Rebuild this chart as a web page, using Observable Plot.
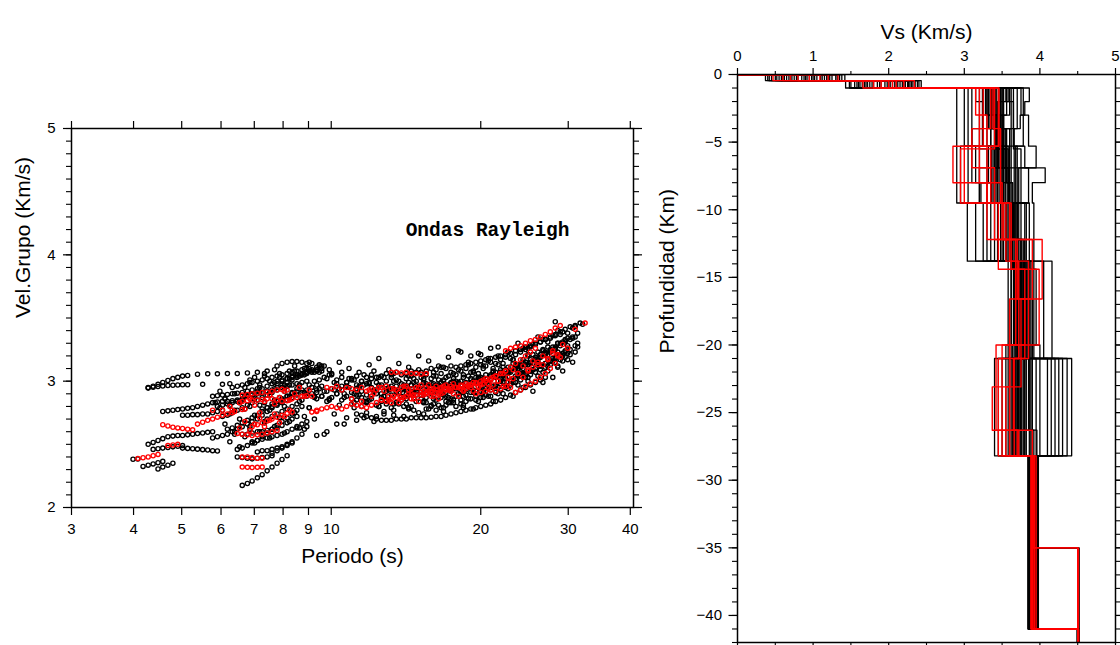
<!DOCTYPE html>
<html>
<head>
<meta charset="utf-8">
<script src="https://cdn.jsdelivr.net/npm/d3@7"></script>
<script src="https://cdn.jsdelivr.net/npm/@observablehq/plot@0.6"></script>
<style>
  html, body { margin: 0; padding: 0; background: #fff; }
  #wrap { position: relative; width: 1120px; height: 645px; overflow: hidden; }
  #left, #right { position: absolute; top: 0; }
  #left { left: 0; }
  #right { left: 650px; }
</style>
</head>
<body>
<div id="wrap"><div id="left"></div><div id="right"></div></div>
<script>
// ---------- Group-velocity dispersion picks (Rayleigh waves) ----------
// Two interleaved period samplings (s); each pick refers to one of them by index.
const periodGrid = [3.90,3.99,4.08,4.18,4.28,4.38,4.48,4.58,4.69,4.80,
  4.91,5.02,5.14,5.26,5.38,5.51,5.64,5.77,5.90,6.04,
  6.18,6.32,6.47,6.62,6.78,6.93,7.10,7.26,7.43,7.60,
  7.78,7.96,8.15,8.34,8.53,8.73,8.93,9.14,9.35,9.57,
  9.80,10.02,10.26,10.50,10.74,10.99,11.25,11.51,11.78,12.05,
  12.33,12.62,12.91,13.21,13.52,13.84,14.16,14.49,14.83,15.17,
  15.53,15.89,16.26,16.64,17.02,17.42,17.83,18.24,18.67,19.10,
  19.55,20.00,20.47,20.94,21.43,21.93,22.44,22.96,23.50,24.05,
  24.61,25.18,25.77,26.37,26.98,27.61,28.25,28.91,29.58,30.27,
  30.98,31.70,32.44,33.19];
const periodGridB = [3.95,4.04,4.13,4.23,4.33,4.43,4.53,4.63,4.74,4.86,
  4.97,5.08,5.20,5.32,5.44,5.57,5.71,5.84,5.97,6.11,
  6.25,6.39,6.54,6.70,6.86,7.01,7.18,7.34,7.52,7.69,
  7.87,8.05,8.24,8.44,8.63,8.83,9.03,9.25,9.46,9.68,
  9.91,10.14,10.38,10.62,10.86,11.12,11.38,11.64,11.92,12.19,
  12.47,12.77,13.06,13.36,13.68,14.00,14.32,14.66,15.00,15.35,
  15.71,16.07,16.45,16.83,17.22,17.62,18.04,18.45,18.89,19.32,
  19.78,20.23,20.71,21.18,21.68,22.18,22.70,23.23,23.77,24.33,
  24.90,25.47,26.07,26.68,27.29,27.93,28.58,29.24,29.92,30.62,
  31.34,32.07,32.82];

// Each curve: [first period index, index step, group velocities (km/s)...]
const blackCurves = [
  [4,1, 2.95,2.96,2.975,2.99,3.005,3.02,3.03,3.04,3.045],
  [14,2, 3.055,3.058,3.058,3.06,3.06,3.065,3.07,3.08],
  [30,1, 3.12,3.14,3.15,3.155,3.155,3.15,3.14],
  [4,1, 2.945,2.952,2.958,2.962,2.966,2.968,2.97,2.972,2.972],
  [15,4, 2.975,2.975],
  [7,1, 2.76,2.765,2.77,2.775,2.78,2.785,2.79,2.80,2.81,2.82,2.83,2.835,2.84,2.84,2.845,2.85,2.85],
  [11,1, 2.73,2.73,2.735,2.735,2.74,2.74,2.75,2.76,2.77],
  [4,1, 2.50,2.515,2.53,2.545,2.56,2.565,2.57,2.57,2.575,2.58,2.585,2.59,2.595,2.60],
  [5,1, 2.46,2.465,2.47,2.475,2.48,2.485,2.49],
  [1,1, 2.382,2.384],
  [3,1, 2.325,2.335,2.345,2.355,2.365],
  [6,1, 2.305,2.32,2.335,2.35],
  [11,1, 2.47,2.468,2.465,2.462,2.458,2.455,2.45,2.447],
  [23,1, 2.175,2.19,2.21,2.235,2.26,2.29,2.32,2.35,2.38,2.41],
  [22,1, 2.40,2.395,2.39,2.385,2.39,2.395,2.40,2.41],
  [29,1, 2.43,2.45,2.47,2.49,2.51],
  [18,1, 2.80,2.81,2.82,2.83,2.84,2.86,2.88,2.90,2.92,2.94,2.96,2.98,3.00,3.01,3.02,3.03,3.04,3.05,3.06,3.07,3.08],
  [19,1, 2.72,2.73,2.75,2.77,2.79,2.81,2.83,2.85,2.87,2.89,2.91,2.93,2.95,2.96,2.97,2.98,2.99,3.00],
  [20,1, 2.62,2.63,2.65,2.67,2.69,2.71,2.73,2.76,2.79,2.82,2.84,2.86,2.88,2.90,2.92],
  [17,1, 2.55,2.56,2.57,2.58,2.60,2.62,2.64,2.66,2.68,2.70,2.73,2.76,2.79,2.82,2.85,2.88,2.91,2.94],
  [22,1, 2.46,2.47,2.49,2.51,2.53,2.56,2.59,2.62,2.65,2.68,2.71,2.74,2.77,2.80],
  [21,1, 2.95,2.96,2.97,2.98,2.99,3.00,3.01,3.02,3.03,3.04,3.05,3.06,3.07,3.08,3.09,3.10],
  [24,1, 2.88,2.89,2.90,2.91,2.92,2.93,2.95,2.97,2.99,3.01,3.03,3.05,3.07,3.09,3.11,3.12],
  [25,1, 2.52,2.53,2.54,2.55,2.56,2.57,2.58,2.60,2.62,2.64,2.66,2.68],
  [23,1, 2.58,2.58,2.59,2.60,2.60,2.61,2.62,2.63,2.65,2.67,2.70,2.72],
  [26,1, 2.44,2.45,2.45,2.46,2.47,2.48,2.50,2.52,2.55,2.58],
  [28,1, 2.70,2.72,2.74,2.76,2.78,2.80,2.82,2.85,2.88,2.90,2.93,2.96],
  [17,1, 2.88,2.885,2.89,2.895,2.90,2.905,2.91,2.92,2.93,2.94],
  [30,1, 2.98,3.00,3.02,3.04,3.05,3.06,3.07,3.08,3.09,3.10],
  [27,1, 2.78,2.79,2.80,2.81,2.83,2.85,2.87,2.89,2.91,2.93,2.95,2.97],
  [34,2, 2.63,2.64,2.57,2.60,2.66,2.71],
  [46,2, 2.69,2.75,2.72],
  [37,2, 3.14,3.08,3.06,3.07],
  [67,2, 3.23,3.20,3.21,3.26],
  [40,1, 3.02,3.05,3.01,3.03,2.99,3.02,3.04,3.00,3.03,3.05,
         3.03,3.04,3.06,3.05,3.07,3.05,3.06,3.08,3.07,3.07,
         3.08,3.10,3.09,3.11,3.10,3.12,3.11,3.12,3.13,3.14,
         3.15,3.16,3.17,3.18,3.19,3.20,3.21,3.22,3.24,3.25,
         3.27,3.28,3.30,3.31,3.33,3.34,3.36,3.37],
  [46,1, 2.74,2.73,2.72,2.71,2.70,2.69,2.69,2.69,2.70,2.70,
         2.70,2.71,2.71,2.71,2.71,2.715,2.72,2.72,2.73,2.74,
         2.75,2.76,2.77,2.78,2.79,2.80,2.81,2.82,2.84,2.85,
         2.87,2.89,2.91,2.93,2.95,2.97,2.99,3.01,3.03],
  [35,1, 2.93,2.90,2.95,2.91,2.88,2.92,2.94,2.90,2.93,2.96,
         2.91,2.94,2.92,2.89,2.95,2.93,2.90,2.94,2.96,2.92,
         2.95,2.93,2.97,2.94,2.91,2.96,2.98,2.95,2.93,2.97,
         2.99,2.96,3.00,2.98,3.02,3.00,3.03,3.05,3.04,3.07,
         3.09,3.08,3.11,3.13,3.12,3.15,3.17,3.19,3.21,3.23,
         3.25,3.27,3.30,3.32],
  [38,1, 2.86,2.88,2.84,2.87,2.90,2.85,2.88,2.86,2.89,2.87,
         2.84,2.88,2.90,2.87,2.85,2.89,2.91,2.88,2.86,2.90,
         2.92,2.89,2.87,2.91,2.93,2.90,2.88,2.92,2.94,2.91,
         2.93,2.95,2.92,2.96,2.98,2.95,2.97,3.00,3.02,3.01,
         3.04,3.06,3.05,3.08,3.10,3.12,3.14,3.16,3.18,3.21,
         3.23,3.25,3.28],
  [42,1, 2.98,2.96,2.99,3.01,2.97,3.00,2.98,3.02,2.99,2.97,
         3.00,3.03,3.01,2.98,3.02,3.04,3.00,3.03,3.05,3.02,
         3.04,3.06,3.03,3.07,3.05,3.08,3.10,3.07,3.11,3.13,
         3.12,3.15,3.14,3.17,3.19,3.18,3.21,3.23,3.25,3.27,
         3.29,3.31,3.33,3.35,3.37,3.39,3.41,3.43,3.44,3.46],
  [45,1, 2.82,2.85,2.80,2.83,2.86,2.81,2.84,2.82,2.79,2.83,
         2.85,2.82,2.80,2.84,2.86,2.83,2.81,2.85,2.87,2.84,
         2.86,2.88,2.85,2.89,2.91,2.88,2.92,2.94,2.93,2.96,
         2.98,2.97,3.00,3.02,3.04,3.06,3.08,3.10,3.12,3.14,
         3.16,3.19,3.21,3.24],
  [50,1, 2.93,2.95,2.92,2.94,2.96,2.93,2.95,2.97,2.94,2.96,
         2.98,2.95,2.97,2.99,2.96,2.98,3.00,2.97,2.99,3.01,
         3.03,3.00,3.02,3.05,3.04,3.07,3.09,3.08,3.11,3.13,
         3.15,3.14,3.17,3.19,3.22,3.24,3.26,3.28,3.31,3.33,3.35],
  [56,1, 2.90,2.92,2.89,2.91,2.93,2.90,2.92,2.94,2.91,2.93,
         2.95,2.92,2.94,2.96,2.98,2.96,2.99,3.01,3.03,3.02,
         3.05,3.07,3.09,3.11,3.13,3.15,3.17,3.19,3.21,3.23,3.25],
  [60,1, 2.78,2.80,2.77,2.79,2.81,2.83,2.80,2.82,2.84,2.86,
         2.85,2.87,2.89,2.88,2.91,2.93,2.95,2.97,2.99,3.01,
         3.03,3.05,3.07,3.09,3.11,3.13,3.15,3.17,3.19,3.21,3.23],
  [86,2, 3.47,3.33,3.43]
];
// Picks on the second period sampling
const blackCurvesB = [
  [36,1, 2.97,2.88,3.01,2.92,2.85,2.99,2.94,2.87,3.02,2.90,
         2.96,2.84,2.99,2.93,3.03,2.88,2.95,3.00,2.91,2.97,
         2.89,3.02,2.95,2.99,2.92,3.04,2.96,3.01,2.93,3.06,
         2.98,3.03,2.95,3.08,3.02,3.10,3.00,3.07,3.13,3.05,
         3.11,3.17,3.09,3.15,3.21,3.14,3.19,3.25,3.18,3.24,
         3.30,3.22,3.28,3.34],
  [40,1, 2.86,2.93,2.81,2.90,2.95,2.83,2.89,2.97,2.85,2.92,
         2.80,2.88,2.94,2.82,2.91,2.87,2.78,2.90,2.95,2.84,
         2.92,2.86,2.97,2.89,2.83,2.94,2.99,2.88,2.96,2.91,
         3.01,2.93,2.98,3.04,2.95,3.02,3.07,2.99,3.05,3.10,
         3.03,3.09,3.14,3.07,3.12,3.18,3.11,3.16,3.22,3.15,3.27],
  [45,1, 3.01,2.95,3.05,2.98,3.08,2.97,3.03,2.93,3.06,3.00,
         2.96,3.04,2.99,3.09,3.02,2.97,3.07,3.01,3.11,3.04,
         3.00,3.09,3.05,3.13,3.07,3.03,3.12,3.16,3.10,3.20,
         3.14,3.23,3.17,3.13,3.26,3.20,3.29,3.23,3.33,3.27,
         3.36,3.30,3.39,3.34,3.42,3.38,3.45],
  [50,1, 2.80,2.74,2.85,2.77,2.82,2.72,2.79,2.86,2.75,2.83,
         2.78,2.88,2.81,2.76,2.87,2.83,2.90,2.79,2.86,2.93,
         2.84,2.91,2.88,2.96,2.90,2.99,2.94,3.02,2.97,3.06,
         3.00,3.09,3.04,3.13,3.08,3.16,3.12,3.20,3.17],
  [55,1, 2.94,2.99,2.91,2.96,3.01,2.93,2.98,2.95,3.00,2.97,
         3.02,2.99,2.94,3.04,3.00,3.06,3.02,2.98,3.08,3.04,
         3.11,3.07,3.14,3.10,3.17,3.13,3.21,3.16,3.24,3.20,
         3.27,3.23,3.31,3.26,3.35,3.30],
  [36,2, 3.08,3.12,3.05,3.15,3.10,3.07,3.13,3.18,3.09,3.14,
         3.11,3.20,3.16,3.12,3.19,3.24,3.15,3.22,3.18,3.27,
         3.23,3.30,3.26,3.35,3.31,3.40,3.38],
  [35,2, 2.62,2.70,2.58,2.74,2.66,2.79,2.71,2.68,2.76,2.73,
         2.80,2.77,2.74,2.82,2.79,2.85,2.81,2.78,2.87,2.84,
         2.90,2.88,2.95,2.92,2.99,3.03,3.08],
  [18,1, 2.92,2.86,2.98,2.90,2.83,2.95,3.01,2.88,2.97,3.04,2.91,2.99,3.06,2.94,3.02,3.08,2.97,3.05,3.10,3.00,3.07,3.12],
  [19,1, 2.66,2.74,2.60,2.70,2.78,2.64,2.73,2.81,2.68,2.77,2.85,2.71,2.80,2.88,2.75,2.84,2.91,2.79,2.87,2.94],
  [20,1, 2.52,2.58,2.48,2.56,2.62,2.51,2.60,2.67,2.55,2.64,2.71,2.59,2.68,2.75,2.63,2.72,2.79],
  [24,1, 2.99,3.03,2.95,3.06,3.00,3.09,3.03,2.97,3.08,3.12,3.04,3.10,3.15,3.07,3.13,3.03,3.09],
  [17,1, 2.83,2.79,2.86,2.81,2.77,2.84,2.88,2.80,2.86,2.91,2.83,2.89,2.94,2.87,2.92,2.97,2.90]
];

const redCurves = [
  [7,1, 2.655,2.645,2.635,2.63,2.625,2.62,2.615],
  [14,1, 2.66,2.675,2.69,2.70,2.715,2.73,2.74,2.75],
  [8,1, 2.49,2.495,2.50],
  [2,1, 2.388,2.394,2.40,2.41,2.42],
  [23,1, 2.32,2.318,2.316,2.318,2.32],
  [23,1, 2.40,2.40,2.395,2.39,2.39],
  [23,1, 2.89,2.895,2.90,2.905,2.91,2.915,2.92,2.93,2.935,2.93],
  [23,1, 2.84,2.845,2.85,2.85,2.855,2.86,2.86,2.85,2.84,2.845,2.86,2.87,2.88,2.885,2.88],
  [17,2, 2.77,2.77,2.77,2.775],
  [25,1, 2.64,2.655,2.67,2.685,2.70,2.715,2.73,2.745,2.755],
  [22,1, 2.585,2.58,2.575,2.57,2.575,2.58,2.59,2.60,2.61],
  [37,1, 2.755,2.76],
  [40,1, 2.95,2.94,2.96,2.93,2.95,2.94,2.93,2.95,2.92,2.94,
         2.93,2.95,2.96,2.94,2.93,2.95,2.96,2.94,2.95,2.97,
         2.95,2.94,2.96,2.95,2.97,2.96,2.95,2.97,2.98,2.97,
         2.99,3.00,3.02,3.01,3.04,3.06,3.08],
  [38,1, 2.77,2.78,2.79,2.80,2.79,2.78,2.80,2.82,2.81,2.80,
         2.79,2.81,2.83,2.85,2.84,2.86,2.87,2.85,2.88,2.90,
         2.89,2.91,2.90,2.92,2.91,2.93,2.94,2.92,2.95,2.96,
         2.94,2.97,2.98,2.97,3.00,3.02,3.04,3.06,3.08,3.11,
         3.14,3.17,3.20,3.23,3.26],
  [53,1, 3.07,3.07,3.065,3.07,3.06,3.06,3.055,3.06],
  [76,1, 3.24,3.26,3.27,3.28,3.30,3.32,3.33,3.35,3.37,3.39,3.42,3.44],
  [90,2, 3.41,3.46],
  [70,1, 2.90,2.91,2.92,2.93,2.92,2.94,2.96,2.95,2.91,2.93,
         2.96,2.98,3.00,3.03,3.06,3.10,3.14,3.19],
  [60,1, 2.91,2.92,2.93,2.94,2.93,2.94,2.95,2.94,2.96,2.95],
  [45,2, 2.86,2.84,2.88,2.85,2.83,2.87,2.86,2.89,2.88,2.90]
];
const redCurvesB = [
  [48,1, 2.93,2.90,2.95,2.92,2.88,2.94,2.91,2.96,2.93,2.89,
         2.95,2.92,2.97,2.94,2.90,2.96,2.93,2.98,2.95,2.92,
         2.97,2.99,2.96,3.01,2.98,3.03,3.00,3.06,3.03,3.09,
         3.06,3.12,3.09,3.16,3.13,3.20,3.17,3.24,3.21,3.29,3.26],
  [52,1, 2.85,2.88,2.83,2.87,2.90,2.86,2.84,2.89,2.92,2.88,
         2.86,2.91,2.94,2.90,2.88,2.93,2.96,2.92,2.95,2.98,
         2.94,2.97,3.00,2.96,2.99,3.02,3.06,3.03,3.08,3.11,
         3.15,3.13,3.18,3.22,3.20],
  [20,1, 2.80,2.76,2.83,2.78,2.86,2.81,2.75,2.84,2.89,2.82,2.87,2.92,2.85,2.90,2.95,2.88,2.93],
  [22,1, 2.63,2.68,2.61,2.66,2.71,2.64,2.69,2.74,2.67,2.72,2.77]
];

// Axis ticks and annotation text of the dispersion panel
const periodTicks = [3, 4, 5, 6, 7, 8, 9, 10, 20, 30, 40];
const velTicks = [2, 3, 4, 5];
const waveLabel = "Ondas Rayleigh";
const periodTitle = "Periodo (s)";
const velTitle = "Vel.Grupo (Km/s)";

// ---------- Shear-velocity models ----------
// Each model: [Vs1, bottom1, Vs2, bottom2, ..., Vs of the half-space]; depths in km.
const blackModels = [
  [0.37,0.45, 1.43,1.0, 2.90,9.5, 3.04,13.8, 3.62,20.0, 3.90,28.2, 3.85,41, 4.50],
  [1.42,0.45, 2.43,1.0, 3.86,2.0, 3.80,3.0, 3.74,4.0, 3.66,5.3, 3.80,6.9, 4.07,8.0, 3.90,9.5, 3.92,13.8, 4.16,21.0, 4.42,28.2, 3.98,41, 4.52],
  [0.55,0.45, 1.60,1.0, 3.10,5.3, 2.95,9.5, 3.25,13.8, 3.75,21.0, 3.60,28.2, 3.90,41, 4.50],
  [0.70,0.45, 1.80,1.0, 3.40,4.0, 3.55,8.0, 3.60,12.2, 3.80,20.0, 3.70,28.2, 3.92,35, 4.50],
  [0.85,0.45, 2.00,1.0, 3.30,3.0, 3.45,6.9, 3.20,9.5, 3.55,13.8, 3.85,21.0, 4.30,28.2, 3.95,41, 4.50],
  [1.00,0.45, 2.20,1.0, 3.55,2.0, 3.65,5.3, 3.70,9.5, 3.80,14.4, 3.95,20.0, 3.90,26.3, 3.88,41, 4.51],
  [1.15,0.45, 1.95,1.0, 3.20,5.5, 3.30,9.5, 3.50,13.8, 3.70,21.0, 3.45,28.2, 3.86,41, 4.50],
  [1.30,0.45, 2.30,1.0, 3.70,4.0, 3.60,6.9, 3.85,9.5, 3.75,13.8, 3.90,21.0, 4.20,28.2, 3.93,35, 4.52],
  [0.45,0.45, 1.50,1.0, 3.00,5.3, 3.15,8.0, 3.35,13.8, 3.65,20.0, 3.55,28.2, 3.84,41, 4.49],
  [0.65,0.45, 1.70,1.0, 3.45,3.0, 3.35,5.5, 3.50,9.5, 3.60,13.8, 3.80,21.0, 3.75,28.2, 3.89,41, 4.50],
  [0.90,0.45, 2.10,1.0, 3.35,5.3, 3.40,9.5, 3.45,13.8, 3.72,20.0, 4.00,28.2, 3.91,41, 4.50],
  [1.10,0.45, 2.35,1.0, 3.60,3.0, 3.50,6.9, 3.40,9.5, 3.65,12.2, 3.78,21.0, 3.65,28.2, 3.87,41, 4.50],
  [1.25,0.45, 1.85,1.0, 3.25,4.0, 3.10,8.0, 3.30,13.8, 3.68,20.0, 3.85,26.3, 3.96,41, 4.51],
  [0.50,0.45, 2.05,1.0, 3.50,5.3, 3.58,9.5, 3.48,13.8, 3.82,21.0, 4.10,28.2, 3.90,35, 4.50],
  [0.80,0.45, 2.25,1.0, 3.15,2.0, 3.25,5.3, 3.05,9.5, 3.40,13.8, 3.70,21.0, 3.50,28.2, 3.88,41, 4.50],
  [0.95,0.45, 1.65,1.0, 3.65,5.5, 3.75,9.5, 3.62,13.8, 3.88,20.0, 3.80,28.2, 3.94,41, 4.50],
  [1.35,0.45, 2.15,1.0, 3.38,4.0, 3.48,6.9, 3.58,9.5, 3.52,13.8, 3.76,21.0, 3.95,28.2, 3.86,41, 4.50],
  [0.60,0.45, 1.90,1.0, 3.28,3.0, 3.42,8.0, 3.22,9.5, 3.44,13.8, 3.66,20.0, 3.72,28.2, 3.92,41, 4.50],
  [1.05,0.45, 2.40,1.0, 3.78,5.3, 3.68,9.5, 3.82,13.8, 3.92,21.0, 4.36,28.2, 3.97,41, 4.51],
  [0.75,0.45, 1.55,1.0, 3.05,5.3, 3.20,9.5, 3.15,13.8, 3.58,21.0, 3.40,28.2, 3.85,41, 4.50],
  [1.20,0.45, 2.28,1.0, 3.48,4.0, 3.62,8.0, 3.55,12.2, 3.74,20.0, 3.88,26.3, 3.90,41, 4.50],
  [0.40,0.45, 1.75,1.0, 3.58,2.0, 3.44,5.3, 3.66,9.5, 3.56,13.8, 3.86,21.0, 4.25,28.2, 3.89,41, 4.50],
  [0.88,0.45, 2.12,1.0, 3.42,5.5, 3.52,9.5, 3.70,14.4, 3.78,20.0, 3.62,28.2, 3.87,41, 4.50],
  [1.38,0.45, 2.38,1.0, 3.75,3.0, 3.85,5.3, 3.95,6.9, 3.72,9.5, 3.86,13.8, 4.05,21.0, 4.15,28.2, 3.94,41, 4.50],
  [0.42,0.45, 1.48,1.0, 3.30,5.3, 3.38,9.5, 3.55,13.8, 3.70,21.0, 3.68,28.2, 3.86,41, 4.50],
  [0.58,0.45, 1.62,1.0, 3.36,4.0, 3.44,8.0, 3.62,13.8, 3.74,20.0, 3.72,28.2, 3.88,41, 4.50],
  [0.68,0.45, 1.78,1.0, 3.42,5.3, 3.50,9.5, 3.66,12.2, 3.76,21.0, 3.78,28.2, 3.90,41, 4.50],
  [0.78,0.45, 1.88,1.0, 3.48,3.0, 3.40,6.9, 3.60,9.5, 3.70,13.8, 3.80,21.0, 3.82,28.2, 3.91,41, 4.50],
  [0.92,0.45, 1.98,1.0, 3.52,5.5, 3.46,9.5, 3.68,13.8, 3.72,20.0, 3.76,28.2, 3.89,41, 4.50],
  [1.02,0.45, 2.08,1.0, 3.34,4.0, 3.56,8.0, 3.64,13.8, 3.78,21.0, 3.70,28.2, 3.87,35, 4.50],
  [1.12,0.45, 2.18,1.0, 3.40,5.3, 3.48,9.5, 3.58,13.8, 3.68,21.0, 3.74,26.3, 3.92,41, 4.50],
  [1.22,0.45, 2.26,1.0, 3.56,3.0, 3.46,5.5, 3.54,9.5, 3.64,14.4, 3.82,20.0, 3.66,28.2, 3.86,41, 4.51],
  [1.32,0.45, 2.32,1.0, 3.24,5.3, 3.36,9.5, 3.60,13.8, 3.74,21.0, 3.80,28.2, 3.93,41, 4.50],
  [0.52,0.45, 1.58,1.0, 3.62,4.0, 3.54,6.9, 3.48,9.5, 3.66,13.8, 3.84,21.0, 3.58,28.2, 3.88,41, 4.50],
  [0.72,0.45, 1.72,1.0, 3.46,5.3, 3.32,8.0, 3.52,12.2, 3.62,20.0, 3.64,28.2, 3.90,41, 4.50],
  [0.98,0.45, 2.02,1.0, 3.38,3.0, 3.52,5.3, 3.44,9.5, 3.70,13.8, 3.76,21.0, 3.86,28.2, 3.91,41, 4.50],
  [1.18,0.45, 2.22,1.0, 3.50,5.5, 3.58,9.5, 3.72,13.8, 3.66,20.0, 3.70,28.2, 3.89,41, 4.50],
  [0.62,0.45, 1.68,1.0, 3.32,4.0, 3.42,9.5, 3.56,13.8, 3.80,21.0, 3.74,28.2, 3.87,41, 4.50]
];
const redModels = [
  [0.47,0.45, 2.34,1.0, 3.46,5.3, 2.85,8.0, 3.30,12.2, 4.03,16.6, 3.60,23.1, 3.37,26.3, 3.70,28.2, 3.90,35, 4.51],
  [1.09,0.45, 1.66,1.0, 3.20,5.5, 2.95,9.5, 3.45,14.4, 3.99,20.0, 3.50,28.2, 3.88,41, 4.51],
  [0.80,0.45, 2.00,1.0, 3.35,4.0, 3.10,6.9, 3.40,12.2, 3.70,16.6, 3.80,21.0, 3.45,28.2, 3.92,41, 4.50],
  [1.33,0.45, 2.20,1.0, 3.25,5.3, 3.00,9.5, 3.55,13.8, 3.85,21.0, 3.65,26.3, 3.90,41, 4.51],
  [0.60,0.45, 1.90,1.0, 3.40,5.5, 3.20,8.0, 3.50,12.2, 3.90,16.6, 3.75,23.1, 3.55,28.2, 3.95,41, 4.50],
  [0.95,0.45, 2.10,1.0, 3.15,3.0, 3.30,9.5, 3.62,14.4, 3.80,20.0, 3.42,26.3, 3.72,28.2, 3.91,35, 4.50],
  [0.70,0.45, 1.80,1.0, 3.45,5.3, 3.35,9.5, 3.60,13.8, 3.72,21.0, 3.66,28.2, 3.89,41, 4.50],
  [1.20,0.45, 2.05,1.0, 3.38,4.0, 3.48,9.5, 3.52,12.2, 3.68,20.0, 3.60,28.2, 3.93,41, 4.51]
];
const modelBottom = 45; // half-space drawn past the bottom of the frame

// Axis ticks and titles of the velocity-model panel
const vsTicks = [0, 1, 2, 3, 4, 5];
const vsHalfTicks = [0.5, 1.5, 2.5, 3.5, 4.5];
const depthTicks = [0, -5, -10, -15, -20, -25, -30, -35, -40];
const vsTitle = "Vs (Km/s)";
const depthTitle = "Profundidad (Km)";

// ---------- Helpers ----------
function picks(curves, grid) {
  const out = [];
  for (const c of curves) {
    const [start, step, ...vels] = c;
    vels.forEach((v, k) => {
      const p = grid[start + k * step];
      if (p !== undefined) out.push({period: p, vel: v});
    });
  }
  return out;
}

function staircase(models) {
  const out = [];
  models.forEach((m, id) => {
    out.push({vs: 0, depth: 0, id});
    let top = 0;
    for (let k = 0; k < m.length; k += 2) {
      const vs = m[k];
      const bottom = k + 1 < m.length ? m[k + 1] : modelBottom;
      out.push({vs, depth: -top, id}, {vs, depth: -bottom, id});
      top = bottom;
    }
  });
  return out;
}

const sans = "Liberation Sans, Arial, Helvetica, sans-serif";
const blank = () => "";
const blackPicks = picks(blackCurves, periodGrid).concat(picks(blackCurvesB, periodGridB));
const redPicks = picks(redCurves, periodGrid).concat(picks(redCurvesB, periodGridB));

// ---------- Left panel: dispersion curves ----------
const dispersion = Plot.plot({
  width: 650,
  height: 645,
  marginLeft: 71,
  marginRight: 17,
  marginTop: 128,
  marginBottom: 138,
  style: {fontFamily: sans, fontSize: "15px", color: "black", background: "transparent"},
  x: {type: "log", domain: [3, 40.6], label: null},
  y: {domain: [2, 5], label: null},
  marks: [
    Plot.axisX({anchor: "bottom", ticks: periodTicks, tickFormat: d => `${d}`, tickSize: 8, tickPadding: 8, strokeWidth: 1.2, fontSize: 15, label: null}),
    Plot.axisX({anchor: "top", ticks: periodTicks, tickFormat: blank, tickSize: 8, strokeWidth: 1.2, label: null}),
    Plot.axisY({anchor: "left", ticks: velTicks, tickFormat: d => `${d}`, tickSize: 8, tickPadding: 8, strokeWidth: 1.2, fontSize: 15, label: null}),
    Plot.axisY({anchor: "left", ticks: 30, tickFormat: blank, tickSize: 5, strokeWidth: 1.1, label: null}),
    Plot.axisY({anchor: "right", ticks: velTicks, tickFormat: blank, tickSize: 8, strokeWidth: 1.2, label: null}),
    Plot.axisY({anchor: "right", ticks: 30, tickFormat: blank, tickSize: 5, strokeWidth: 1.1, label: null}),
    Plot.dot(blackPicks, {x: "period", y: "vel", r: 2.1, stroke: "black", strokeWidth: 1.35, fill: "none"}),
    Plot.dot(redPicks, {x: "period", y: "vel", r: 2.1, stroke: "#ff0000", strokeWidth: 1.35, fill: "none"}),
    Plot.frame({stroke: "black", strokeWidth: 1.5}),
    Plot.text([waveLabel], {frameAnchor: "top-right", dx: -64, dy: 107.5, textAnchor: "end", lineAnchor: "bottom",
      fontFamily: "Liberation Mono, Courier New, monospace", fontWeight: "bold", fontSize: 19.5, fill: "black"}),
    Plot.text([periodTitle], {frameAnchor: "bottom", dy: 55, fontSize: 21, fill: "black"}),
    Plot.text([velTitle], {frameAnchor: "left", dx: -48, rotate: -90, fontSize: 21, fill: "black"})
  ]
});
document.getElementById("left").append(dispersion);

// ---------- Right panel: Vs models ----------
const models = Plot.plot({
  width: 470,
  height: 645,
  marginLeft: 87,
  marginRight: 5,
  marginTop: 74,
  marginBottom: 3,
  style: {fontFamily: sans, fontSize: "15px", color: "black", background: "transparent"},
  x: {domain: [0, 5], label: null},
  y: {domain: [-42, 0], label: null},
  marks: [
    Plot.axisX({anchor: "top", ticks: vsTicks, tickFormat: d => `${d}`, tickSize: 7, tickPadding: 7, strokeWidth: 1.2, fontSize: 15, label: null}),
    Plot.axisX({anchor: "top", ticks: vsHalfTicks, tickFormat: blank, tickSize: 4, strokeWidth: 1.1, label: null}),
    Plot.axisX({anchor: "bottom", ticks: vsTicks, tickFormat: blank, tickSize: 7, strokeWidth: 1.2, label: null}),
    Plot.axisX({anchor: "bottom", ticks: vsHalfTicks, tickFormat: blank, tickSize: 4, strokeWidth: 1.1, label: null}),
    Plot.axisY({anchor: "left", ticks: depthTicks, tickSize: 8.5, tickPadding: 7, strokeWidth: 1.2, fontSize: 15, label: null}),
    Plot.axisY({anchor: "left", ticks: 42, tickFormat: blank, tickSize: 5, strokeWidth: 1.1, label: null}),
    Plot.axisY({anchor: "right", ticks: depthTicks, tickFormat: blank, tickSize: 8.5, strokeWidth: 1.2, label: null}),
    Plot.axisY({anchor: "right", ticks: 42, tickFormat: blank, tickSize: 5, strokeWidth: 1.1, label: null}),
    Plot.line(staircase(blackModels), {x: "vs", y: "depth", z: "id", stroke: "black", strokeWidth: 1.3, clip: true}),
    Plot.line(staircase(redModels), {x: "vs", y: "depth", z: "id", stroke: "#ff0000", strokeWidth: 1.4, clip: true}),
    Plot.frame({stroke: "black", strokeWidth: 1.5}),
    Plot.text([vsTitle], {frameAnchor: "top", dy: -50, fontSize: 21, fill: "black"}),
    Plot.text([depthTitle], {frameAnchor: "left", dx: -70, dy: -5, rotate: -90, fontSize: 21, fill: "black"})
  ]
});
document.getElementById("right").append(models);
</script>
</body>
</html>
